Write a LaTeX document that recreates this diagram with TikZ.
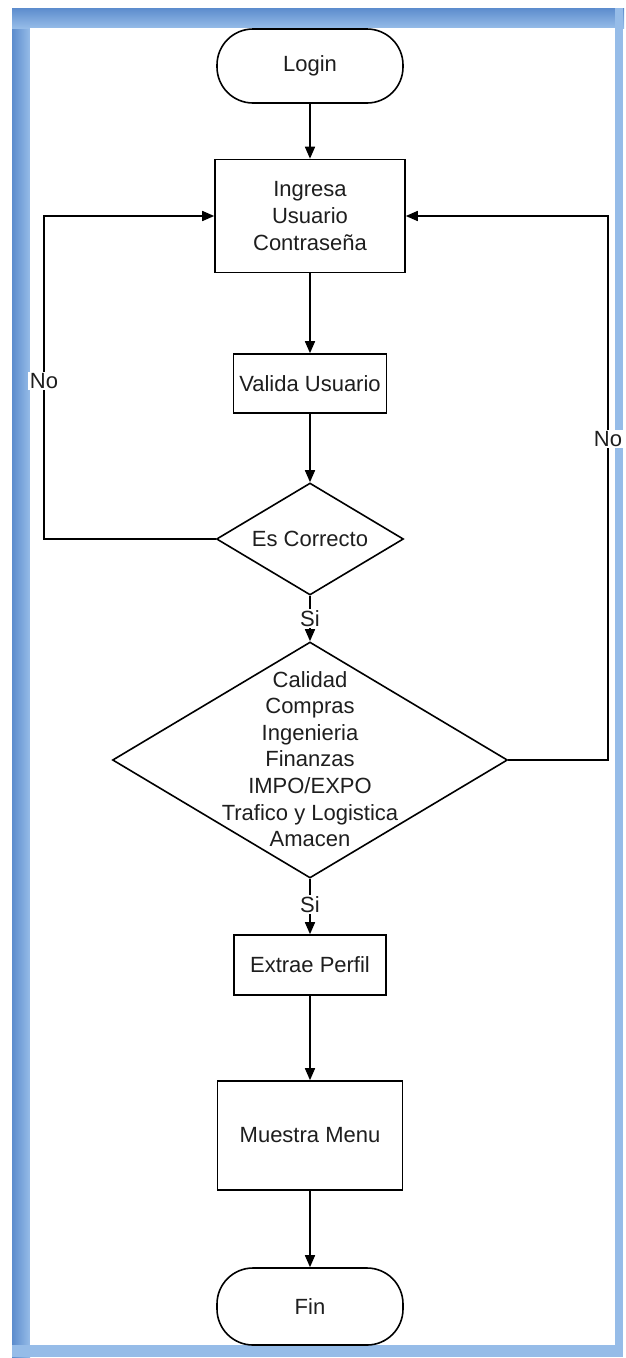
\documentclass[tikz,border=0pt]{standalone}
\usepackage{fontspec}
\setmainfont{Liberation Sans}
\usetikzlibrary{shapes.geometric,arrows.meta}
\definecolor{framedark}{RGB}{92,140,205}
\definecolor{framelight}{RGB}{150,188,232}
\definecolor{inktext}{RGB}{30,30,30}

\begin{document}
\begin{tikzpicture}[x=1pt,y=-1pt,
  every node/.style={font=\fontsize{22pt}{26.6pt}\selectfont, text=inktext},
  wire/.style={draw=black, line width=1.6pt},
  flow/.style={wire, -{Triangle[length=12pt,width=10pt]}},
  terminal/.style={wire, rectangle, rounded corners=36pt, minimum width=186pt, inner sep=0pt},
  process/.style={wire, rectangle, inner sep=0pt, align=center},
  decision/.style={wire, diamond, aspect=1.67, inner sep=0pt},
  edgelabel/.style={fill=white, inner sep=1.5pt}
]
\useasboundingbox (0,0) rectangle (626,1358);

% window frame
\shade[left color=framedark, right color=framelight] (12,8) rectangle (30,1357);
\shade[top color=framedark, bottom color=framelight] (12,8) rectangle (624,28);
\fill[framelight] (615,8) rectangle (623,1357);
\fill[framelight] (12,1345) rectangle (623,1357);
\fill[white] (30,28) rectangle (615,1345);

% nodes
\node[terminal, minimum height=74pt] (login) at (310,66) {Login};
\node[process, minimum width=190pt, minimum height=113pt] (ingresa) at (310,216)
  {Ingresa\\Usuario\\Contraseña};
\node[process, minimum width=153pt, minimum height=59pt] (valida) at (310,383.5) {Valida Usuario};
\node[decision, minimum width=187pt, minimum height=112pt] (correcto) at (310,539) {Es Correcto};
\node[decision, minimum width=395pt, minimum height=236pt] (areas) at (310,760) {};
\node[align=center, inner sep=0pt] (areastext) at (310,759)
  {Calidad\\Compras\\Ingenieria\\Finanzas\\IMPO/EXPO\\Trafico y Logistica\\Amacen};
\node[process, minimum width=152pt, minimum height=60pt] (extrae) at (310,965) {Extrae Perfil};
\node[process, minimum width=185pt, minimum height=109pt] (muestra) at (310,1135.5) {Muestra Menu};
\node[terminal, minimum height=77pt] (fin) at (310,1306.5) {Fin};

\coordinate (leftbend) at (44,539);
\coordinate (lefttop) at (44,216);
\coordinate (rightbend) at (608,760);
\coordinate (righttop) at (608,216);

% connectors
\draw[flow] (login) -- (ingresa);
\draw[flow] (ingresa) -- (valida);
\draw[flow] (valida) -- (correcto);
\draw[flow] (correcto) -- node[edgelabel, pos=0.5] (si1) {Si} (areas);
\draw[flow] (correcto.west) -- (leftbend) -- node[edgelabel, pos=0.49] (no1) {No} (lefttop) -- (ingresa.west);
\draw[flow] (areas.east) -- (rightbend) -- node[edgelabel, pos=0.59] (no2) {No} (righttop) -- (ingresa.east);
\draw[flow] (areas) -- node[edgelabel, pos=0.47] (si2) {Si} (extrae);
\draw[flow] (extrae) -- (muestra);
\draw[flow] (muestra) -- (fin);
\end{tikzpicture}
\end{document}
